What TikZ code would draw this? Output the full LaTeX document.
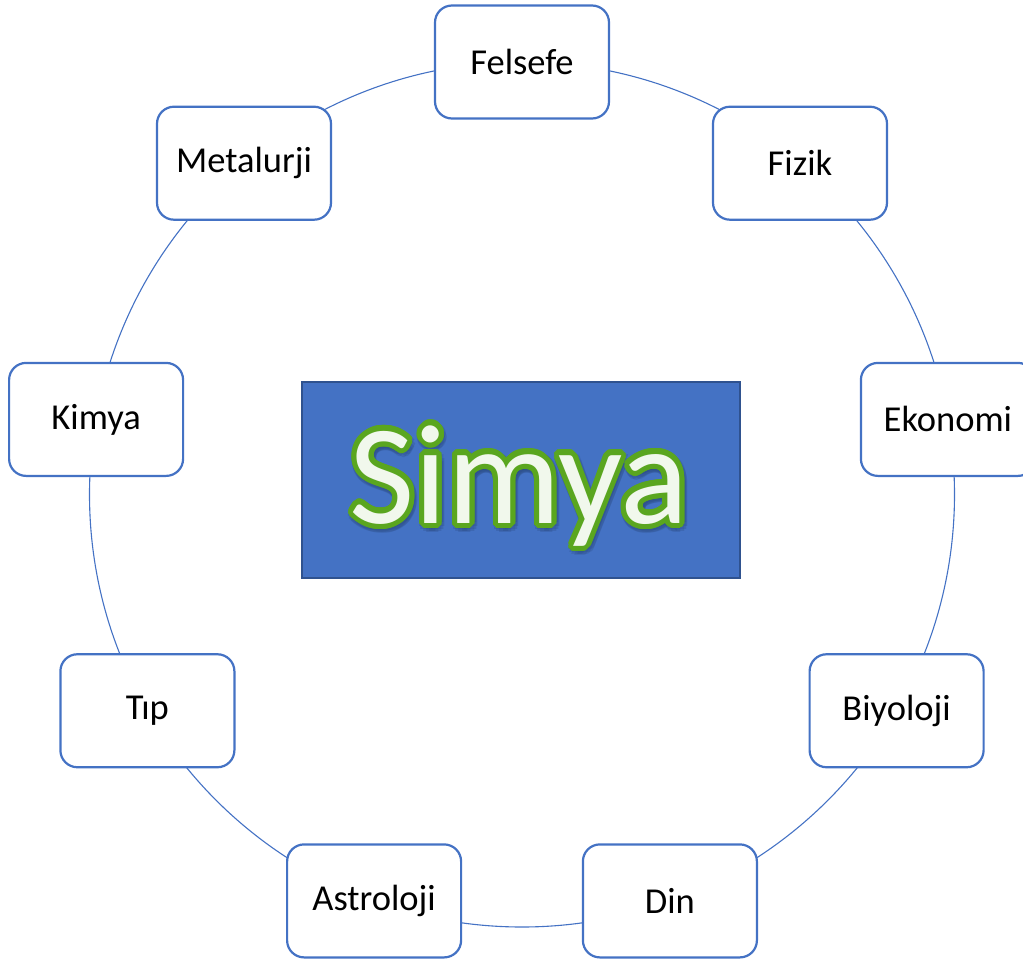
\documentclass[tikz,border=0pt]{standalone}
\usepackage{fontspec}
\setmainfont{Carlito}
\definecolor{accent}{HTML}{4472C4}
\definecolor{accentdark}{HTML}{2F528F}
\definecolor{simgreen}{HTML}{5AA61F}
\definecolor{simshadow}{HTML}{2A4A80}
\definecolor{simfill}{HTML}{F1F8EC}
\begin{document}
\begin{tikzpicture}[x=1pt,y=-1pt,
 item/.style={draw=accent, line width=2.2pt, fill=white, rounded corners=17pt,
   minimum width=174pt, minimum height=113pt, inner sep=0pt,
   font=\fontsize{36.5}{40}\selectfont, text=black},
 ring/.style={draw=accent, line width=1.1pt},
 titlebox/.style={fill=accent, draw=accentdark, line width=1.5pt,
   minimum width=438pt, minimum height=196pt, inner sep=0pt},
 simyatext/.style={font=\fontsize{142}{144}\selectfont, inner sep=0pt, anchor=base}]
\useasboundingbox (0,0) rectangle (1023,959);
\clip (0,0) rectangle (1023,959);
\coordinate (c) at (522,494.5);
\draw[ring] (c) circle (432.5pt);
\node[item] (felsefe)   at (522,62)       {Felsefe};
\node[item] (fizik)     at (800,163.2)    {Fizik};
\node[item] (ekonomi)   at (947.9,419.4)  {Ekonomi};
\node[item] (biyoloji)  at (896.6,710.75) {Biyoloji};
\node[item] (din)       at (669.9,900.9)  {Din};
\node[item] (astroloji) at (374.1,900.9)  {Astroloji};
\node[item] (tip)       at (147.4,710.75) {Tıp};
\node[item] (kimya)     at (96.1,419.4)   {Kimya};
\node[item] (metalurji) at (244,163.2)    {Metalurji};
\node[titlebox] (title) at (521,480) {};
\coordinate (sbase) at (519,523);
\foreach \a [count=\i] in {0,30,...,330}
  \node[simyatext, text=simshadow, text opacity=0.25, xshift={1.5pt+6.5pt*cos(\a)}, yshift={-3pt+6.5pt*sin(\a)}] (simyashadow\i) at (sbase) {Simya};
\foreach \a [count=\i] in {0,15,...,345}
  \node[simyatext, text=simgreen, xshift={5.2pt*cos(\a)}, yshift={5.2pt*sin(\a)}] (simyaout\i) at (sbase) {Simya};
\node[simyatext, text=simfill] (simya) at (sbase) {Simya};
\end{tikzpicture}
\end{document}
